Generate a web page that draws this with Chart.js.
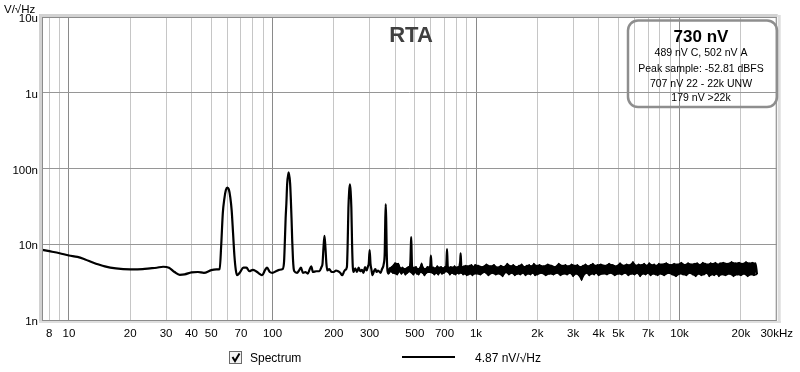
<!DOCTYPE html>
<html>
<head>
<meta charset="utf-8">
<script src="https://cdn.jsdelivr.net/npm/chart.js@4/dist/chart.umd.min.js"></script>
<style>
  body { margin: 0; background: #fff; }
  canvas { display: block; }
</style>
</head>
<body>
<canvas id="chart" width="800" height="372"></canvas>
<script>
// spectrum, Hz -> nV/rtHz
const lowFreq = [7.3,8,9,10,11,12,13,14,15,17,20,23,25,27,29,31,33,35,37,40,43,46,50,53,55,56,57,58,59,60,61,62,63,64,65,66,67,69,72,74.5,77,80,83,86,89,92,94,97,100,104,108,112,114,115,116,117,118,120,122,123,124,125,126,127,128,132,135,138,141,145,149,152,155,158,164,170,174,176,178,180,182,184,186,190,195,200,205,210,215,220,225,228,232,234,236,238,240,242,244,246,248,250,255,260,265,270,275,280,285,290,295,297,300,303,306,310,315,320,325,330,340,345,352,356,358,360,362,364,367];
const lowLevel = [8.5,8.1,7.6,7.1,6.8,6.3,5.8,5.4,5.1,4.8,4.67,4.7,4.8,4.9,5.05,4.9,4.3,3.95,4.0,4.25,4.3,4.2,4.55,4.65,4.7,10,26,40,52,56,53,42,28,14,7,4.6,3.9,4.2,4.9,4.9,4.4,4.6,4.4,4.1,3.9,4.6,4.9,4.3,4.2,4.4,4.6,4.7,6,11,22,35,62,89,64,40,22,11,6.5,4.8,4.4,4.2,4.5,4.9,4.2,4.3,4.1,4.6,5.1,4.3,4.4,4.4,5.0,5.5,9,12.9,9,5.5,4.5,4.7,4.3,4.3,4.5,4.4,4.2,3.9,4.4,4.6,5,10,30,50,62,50,30,10,5,4.3,4.8,4.3,4.9,4.4,4.6,4.2,5.0,4.5,5.2,5.5,8.4,5.5,4.7,3.9,4.4,4.7,4.3,4.5,4.2,4.7,5.5,8,20,34,20,8,4.5];

const midFreq = [372,376,380,385,390,395,400,405,410,415,420,425,430,435,440,445,450,455,460,465,470,474,476,478,480,482,484,488,492,497,502,507,512,517,522,528,534,540,546,552,558,564,570,577,584,590,596,600,604,610,617,624,631,638,645,652,659,666,673,680,688,696,704,710,716,720,724,728,736,744,752,760,768,776,784,792,800,808,816,824,830,836,840,844,848,856,864,872,880,890,900,910,920,930,940,950,960,970,980,990];
const midLevel = [4.1,4.8,4.4,5.0,4.2,4.8,5.6,4.5,4.0,5.5,4.4,4.8,4.1,4.9,4.3,4.7,4.0,4.8,4.2,5.0,4.4,5.2,6,9,12.4,9,5.5,4.5,4.0,4.9,4.3,5.0,4.1,4.7,4.0,4.8,4.3,5.5,4.2,4.8,3.9,4.7,4.2,5.0,4.3,4.9,5.3,7.1,5.3,4.2,4.9,4.0,4.8,4.2,5.1,4.0,4.9,4.3,5.0,4.1,4.8,4.2,5.0,4.4,6,8.6,6,4.3,4.9,4.0,5.0,4.2,4.9,4.1,5.1,4.0,4.9,4.2,5.0,4.1,5.2,6,7.6,5.8,4.2,5.0,4.0,5.1,4.1,5.2,3.9,5.1,4.0,5.2,4.1,5.3,3.9,5.0,4.1,5.3];

const noiseFreq = [
  1000,1025,1050,1075,1100,1125,1150,1175,1200,1225,1250,1275,1300,1325,1350,1375,1400,1425,1450,1475,
  1500,1525,1550,1575,1600,1625,1650,1675,1700,1725,1750,1775,1800,1825,1850,1875,1900,1925,1950,1975,
  2000,2050,2100,2150,2200,2250,2300,2350,2400,2450,2500,2550,2600,2650,2700,2750,2800,2850,2900,2950,
  3000,3050,3100,3150,3200,3250,3300,3350,3400,3450,3500,3550,3600,3650,3700,3750,3800,3850,3900,3950,
  4000,4100,4200,4300,4400,4500,4600,4700,4800,4900,5000,5100,5200,5300,5400,5500,5600,5700,5800,5900,
  6000,6100,6200,6300,6400,6500,6600,6700,6800,6900,7000,7100,7200,7300,7400,7500,7600,7700,7800,7900,
  8000,8200,8400,8600,8800,9000,9200,9400,9600,9800,10000,10200,10400,10600,10800,11000,11200,11400,11600,11800,
  12000,12200,12400,12600,12800,13000,13200,13400,13600,13800,14000,14200,14400,14600,14800,15000,15200,15400,15600,15800,
  16000,16400,16800,17200,17600,18000,18400,18800,19200,19600,20000,20400,20800,21200,21600,22000,22400,22800,23200,23600,24000
];
const noiseLevel = [
  4.1,5.2,4.0,5.0,4.3,5.4,3.9,5.1,4.2,5.3,4.0,4.9,4.1,5.2,3.8,5.0,4.3,5.5,4.0,5.1,
  4.2,5.3,3.9,5.0,4.1,5.2,4.0,5.4,4.2,5.0,3.9,5.2,4.1,5.3,4.0,5.1,4.2,5.5,3.9,5.2,
  4.0,5.3,4.2,5.1,3.9,5.4,4.1,5.2,4.0,5.0,4.2,5.5,3.9,5.2,4.1,5.3,4.0,5.1,4.2,5.4,
  3.8,5.2,4.1,5.3,3.9,5.0,3.4,5.2,4.0,5.4,4.2,5.1,3.9,5.3,4.1,5.5,4.0,5.2,4.2,5.3,
  3.9,5.4,4.1,5.2,4.0,5.5,4.2,5.3,3.9,5.1,4.1,5.6,4.0,5.2,4.2,5.4,3.9,5.3,4.1,5.8,
  4.0,5.2,4.2,5.4,3.8,5.3,4.1,5.5,4.0,5.2,4.2,5.6,3.9,5.3,4.1,5.4,4.0,5.2,3.9,5.5,
  4.1,5.4,3.9,5.6,4.2,5.3,4.0,5.5,3.8,5.4,4.1,5.7,4.0,5.3,3.9,5.6,4.2,5.4,4.0,5.5,
  3.8,5.6,4.1,5.3,3.9,5.7,4.0,5.5,4.2,5.4,3.8,5.6,4.0,5.5,3.9,5.7,4.1,5.4,3.8,5.6,
  4.0,5.7,3.9,5.5,4.1,5.8,3.8,5.6,4.0,5.7,3.9,5.5,4.1,5.8,3.8,5.6,4.0,5.7,3.9,5.6,4.0
];

// axis ticks
const xGrid = [8,9,10,20,30,40,50,60,70,80,90,100,200,300,400,500,600,700,800,900,
  1000,2000,3000,4000,5000,6000,7000,8000,9000,10000,20000,30000];
const xTickValues = [8,10,20,30,40,50,70,100,200,300,500,700,1000,2000,3000,4000,5000,7000,10000,20000,30000];
const xTickLabels = ['8','10','20','30','40','50','70','100','200','300','500','700','1k','2k','3k','4k','5k','7k','10k','20k','30kHz'];
const yTickValues = [1,10,100,1000,10000];
const yTickLabels = ['1n','10n','100n','1u','10u'];

const FONT = '"Liberation Sans", Arial, sans-serif';

const points = [];
[[lowFreq, lowLevel], [midFreq, midLevel], [noiseFreq, noiseLevel]].forEach(([f, l]) => {
  f.forEach((hz, i) => points.push({ x: hz, y: l[i] }));
});

// noise band: local maxima / minima of the dense part, filled between
const bandFreq = midFreq.concat(noiseFreq);
const bandLevel = midLevel.concat(noiseLevel);
const upper = [];
const lower = [];
bandLevel.forEach((v, i) => {
  const prev = i > 0 ? bandLevel[i - 1] : v;
  const next = i < bandLevel.length - 1 ? bandLevel[i + 1] : v;
  if (v >= prev && v >= next && v < 5.9) upper.push({ x: bandFreq[i], y: v });
  if (v <= prev && v <= next) lower.push({ x: bandFreq[i], y: v });
});

const isDecade = (v) => [10, 100, 1000, 10000].includes(Math.round(v));

const overlay = {
  id: 'overlay',
  afterDraw(chart) {
    const ctx = chart.ctx;
    const a = chart.chartArea;
    ctx.save();

    // plot frame with the bevel look
    ctx.fillStyle = '#d2d2d2';
    ctx.fillRect(a.left - 3, a.top - 3, 3, a.bottom - a.top + 4);
    ctx.fillRect(a.left - 3, a.top - 3, a.right - a.left + 4, 3);
    ctx.fillStyle = '#dedede';
    ctx.fillRect(a.right + 1, a.top - 2, 3, a.bottom - a.top + 5);
    ctx.fillRect(a.left - 3, a.bottom + 1, a.right - a.left + 7, 2);
    ctx.strokeStyle = '#8c8c8c';
    ctx.lineWidth = 1;
    ctx.strokeRect(a.left + 0.5, a.top + 0.5, a.right - a.left - 1, a.bottom - a.top);

    // unit label
    ctx.fillStyle = '#000';
    ctx.font = '11.5px ' + FONT;
    ctx.textAlign = 'left';
    ctx.textBaseline = 'alphabetic';
    ctx.fillText('V/\u221AHz', 4, 13);

    // title
    ctx.fillStyle = '#404040';
    ctx.font = 'bold 22px ' + FONT;
    ctx.textAlign = 'center';
    ctx.fillText('RTA', 411, 42);

    // level box
    ctx.strokeStyle = '#8e8e8e';
    ctx.lineWidth = 2.5;
    ctx.beginPath();
    ctx.roundRect(628, 20.5, 149, 86.5, 10);
    ctx.stroke();
    ctx.fillStyle = '#000';
    ctx.font = 'bold 17px ' + FONT;
    ctx.fillText('730 nV', 701, 42);
    ctx.font = '10.5px ' + FONT;
    ctx.fillText('489 nV C, 502 nV A', 701, 56);
    ctx.fillText('Peak sample: -52.81 dBFS', 701, 71.5);
    ctx.fillText('707 nV 22 - 22k UNW', 701, 86.5);
    ctx.fillText('179 nV >22k', 701, 100.5);

    // legend
    ctx.fillStyle = '#f2f2f2';
    ctx.fillRect(229.5, 351.5, 12, 12);
    ctx.strokeStyle = '#6a6a6a';
    ctx.lineWidth = 1;
    ctx.strokeRect(229.5, 351.5, 12, 12);
    ctx.strokeStyle = '#000';
    ctx.lineWidth = 2;
    ctx.beginPath();
    ctx.moveTo(232.5, 357);
    ctx.lineTo(235, 361);
    ctx.lineTo(239.5, 353.5);
    ctx.stroke();
    ctx.fillStyle = '#000';
    ctx.font = '12px ' + FONT;
    ctx.textAlign = 'left';
    ctx.fillText('Spectrum', 250, 361.5);
    ctx.beginPath();
    ctx.moveTo(402, 357);
    ctx.lineTo(455, 357);
    ctx.stroke();
    ctx.fillText('4.87 nV/\u221AHz', 475, 361.5);

    ctx.restore();
  }
};

new Chart(document.getElementById('chart'), {
  type: 'line',
  data: {
    datasets: [{
      label: 'Spectrum',
      data: points,
      borderColor: '#000',
      borderWidth: 2.2,
      pointRadius: 0,
      fill: false,
      cubicInterpolationMode: 'monotone'
    }, {
      label: 'band top',
      data: upper,
      borderColor: '#000',
      borderWidth: 1.4,
      pointRadius: 0,
      tension: 0,
      fill: false
    }, {
      label: 'band bottom',
      data: lower,
      borderColor: '#000',
      borderWidth: 1.4,
      pointRadius: 0,
      tension: 0,
      backgroundColor: '#000',
      fill: '-1'
    }]
  },
  options: {
    responsive: false,
    animation: false,
    layout: { padding: { top: 17, right: 22, left: 0, bottom: 0 } },
    plugins: { legend: { display: false }, tooltip: { enabled: false } },
    scales: {
      x: {
        type: 'logarithmic',
        min: 7.37,
        max: 30000,
        bounds: 'data',
        afterBuildTicks: (s) => { s.ticks = xGrid.map((v) => ({ value: v })); },
        afterFit: (s) => { s.height = 52; },
        border: { display: false },
        grid: {
          drawTicks: false,
          color: (c) => (isDecade(c.tick.value) ? '#8a8a8a' : '#c6c6c6')
        },
        ticks: {
          autoSkip: false,
          maxRotation: 0,
          padding: 7,
          color: '#000',
          font: { family: FONT, size: 11.5 },
          callback: (v) => {
            const i = xTickValues.indexOf(Math.round(v));
            return i >= 0 ? xTickLabels[i] : '';
          }
        }
      },
      y: {
        type: 'logarithmic',
        min: 1,
        max: 10000,
        bounds: 'data',
        afterBuildTicks: (s) => { s.ticks = yTickValues.map((v) => ({ value: v })); },
        afterFit: (s) => { s.width = 42; },
        border: { display: false },
        grid: { drawTicks: false, color: '#969696' },
        ticks: {
          padding: 4,
          labelOffset: 2,
          color: '#000',
          font: { family: FONT, size: 11.5 },
          callback: (v) => {
            const i = yTickValues.indexOf(Math.round(v));
            return i >= 0 ? yTickLabels[i] : '';
          }
        }
      }
    }
  },
  plugins: [overlay]
});
</script>
</body>
</html>
